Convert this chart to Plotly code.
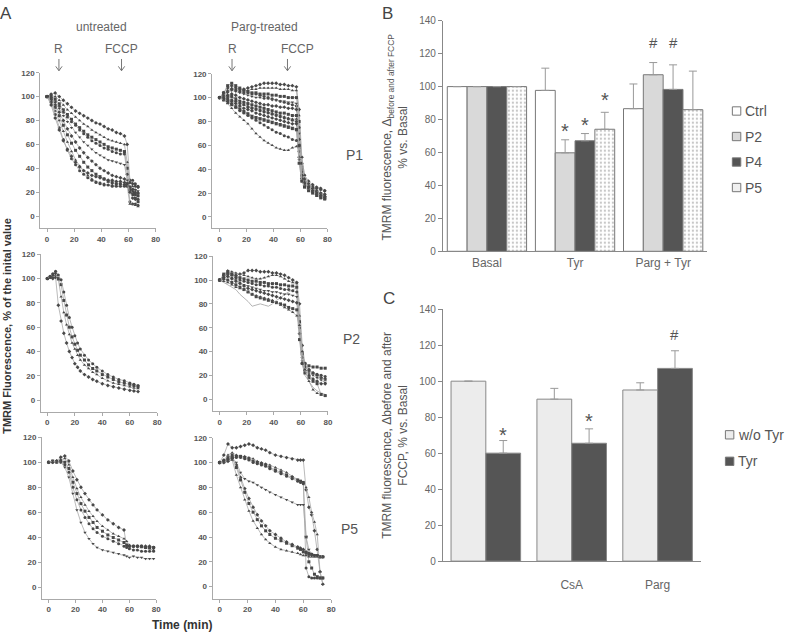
import plotly.graph_objects as go

W, H = 792, 640
FONT = "Liberation Sans, Arial, sans-serif"

# ---------------- Panel A data (time in min, % of initial value) ----------------
t_p1_un = [0, 3, 6, 9, 12, 15, 18, 21, 24, 27, 30, 33, 36, 39, 42, 45, 48, 51, 54, 57, 59, 61, 63, 65, 67]
p1_un = [
    [100, 102, 103, 100, 97, 94, 91, 88, 86, 84, 82, 80, 78, 77, 75, 73, 72, 70, 69, 67, 60, 30, 27, 25, 24],
    [100, 101, 100, 97, 93, 89, 86, 83, 80, 77, 75, 72, 70, 68, 66, 64, 63, 62, 61, 60, 45, 28, 25, 22, 20],
    [100, 100, 98, 94, 89, 85, 81, 77, 74, 71, 68, 66, 64, 62, 60, 58, 57, 56, 55, 54, 40, 22, 20, 18, 17],
    [100, 99, 96, 92, 87, 83, 79, 76, 72, 69, 66, 63, 61, 59, 57, 56, 54, 53, 52, 52, 35, 12, 10, 10, 9],
    [100, 99, 95, 90, 84, 79, 74, 70, 66, 62, 59, 56, 53, 51, 49, 47, 46, 45, 44, 43, 30, 25, 23, 22, 21],
    [100, 98, 93, 87, 80, 73, 67, 62, 57, 53, 49, 46, 43, 40, 38, 36, 34, 33, 32, 31, 27, 24, 22, 20, 19],
    [100, 97, 91, 84, 76, 68, 61, 55, 50, 45, 41, 38, 35, 33, 31, 29, 28, 27, 27, 26, 26, 22, 18, 15, 12],
    [100, 96, 88, 80, 71, 62, 54, 47, 42, 38, 34, 31, 29, 28, 27, 26, 26, 25, 25, 25, 25, 10, 10, 9, 8],
    [100, 95, 85, 74, 64, 55, 48, 43, 38, 35, 32, 30, 28, 27, 26, 26, 25, 25, 25, 25, 25, 28, 30, 27, 25],
    [100, 93, 82, 72, 63, 56, 50, 45, 41, 38, 36, 34, 33, 32, 31, 30, 30, 29, 29, 28, 27, 20, 15, 14, 14],
]

t_p1_pa = [0, 3, 6, 9, 12, 15, 18, 21, 24, 27, 30, 33, 36, 39, 42, 45, 48, 51, 54, 57, 59, 61, 63, 66, 69, 72, 75, 78]
p1_pa = [
    [100, 104, 108, 110, 108, 107, 107, 108, 109, 110, 111, 112, 112, 112, 112, 111, 111, 110, 110, 109, 90, 50, 35, 30, 27, 25, 24, 22],
    [100, 103, 106, 108, 107, 106, 106, 106, 107, 107, 108, 108, 108, 108, 108, 107, 107, 107, 106, 106, 85, 45, 32, 28, 26, 22, 20, 18],
    [100, 104, 110, 112, 110, 108, 106, 105, 104, 104, 103, 103, 103, 102, 102, 101, 101, 100, 100, 100, 80, 40, 30, 27, 24, 20, 18, 16],
    [100, 102, 105, 107, 106, 105, 104, 104, 103, 103, 102, 101, 100, 99, 98, 97, 96, 95, 94, 93, 75, 42, 31, 27, 24, 21, 19, 17],
    [100, 102, 104, 106, 105, 104, 103, 102, 101, 100, 100, 99, 99, 98, 98, 97, 97, 96, 96, 95, 70, 40, 32, 28, 25, 22, 20, 18],
    [100, 101, 102, 103, 102, 100, 99, 98, 97, 96, 95, 94, 94, 93, 93, 92, 92, 91, 91, 90, 65, 38, 30, 26, 23, 20, 18, 17],
    [100, 100, 101, 101, 99, 97, 96, 95, 94, 93, 92, 91, 90, 89, 88, 87, 87, 86, 85, 85, 60, 35, 28, 25, 22, 20, 18, 16],
    [100, 101, 100, 100, 98, 96, 94, 93, 92, 91, 90, 89, 88, 87, 86, 85, 84, 83, 82, 82, 58, 33, 27, 24, 21, 19, 17, 15],
    [100, 99, 99, 98, 97, 95, 94, 92, 91, 90, 89, 88, 87, 86, 85, 84, 83, 82, 81, 80, 55, 35, 29, 27, 25, 24, 23, 22],
    [100, 99, 98, 97, 95, 93, 91, 90, 89, 87, 86, 85, 84, 83, 82, 81, 80, 79, 78, 78, 50, 32, 28, 26, 24, 22, 20, 19],
    [100, 98, 97, 95, 93, 91, 89, 87, 85, 84, 83, 82, 81, 80, 79, 78, 77, 76, 75, 74, 48, 30, 26, 24, 22, 20, 19, 18],
    [100, 98, 96, 94, 92, 90, 88, 86, 84, 83, 82, 81, 80, 79, 78, 77, 76, 75, 74, 73, 45, 30, 25, 22, 20, 18, 16, 15],
    [100, 99, 97, 95, 92, 89, 87, 85, 83, 81, 79, 77, 75, 73, 71, 70, 68, 67, 65, 64, 60, 45, 32, 25, 22, 20, 18, 17],
    [100, 98, 95, 91, 87, 84, 81, 78, 74, 70, 67, 64, 62, 60, 58, 57, 56, 56, 58, 59, 59, 50, 35, 28, 24, 22, 20, 19],
]

t_p2_un = [0, 2, 4, 6, 8, 10, 12, 14, 16, 18, 20, 22, 24, 27, 30, 33, 36, 40, 44, 48, 52, 56, 60, 63, 66]
p2_un = [
    [100, 101, 100, 101, 78, 65, 55, 47, 40, 35, 30, 27, 24, 21, 19, 17, 15.5, 13.5, 12, 11, 10, 9, 8, 7.5, 7],
    [100, 102, 101, 103, 99, 85, 72, 62, 54, 47, 42, 37, 33, 29, 26, 23, 21, 18, 16, 14, 13, 12, 11, 10, 9.5],
    [100, 101, 103, 105, 100, 95, 82, 70, 60, 52, 46, 41, 37, 33, 29, 26, 24, 21, 19, 17, 15, 14, 13, 12, 11],
    [100, 102, 104, 106, 103, 99, 89, 78, 68, 60, 53, 47, 42, 37, 33, 30, 27, 24, 21, 19, 17, 16, 14, 13, 12],
]

t_p2_pa = [0, 3, 6, 9, 12, 15, 18, 21, 24, 27, 30, 33, 36, 39, 42, 45, 48, 51, 54, 57, 59, 61, 63, 66, 69, 72, 75, 78]
p2_pa = [
    [100, 104, 106, 105, 104, 105, 106, 108, 108, 108, 107, 107, 107, 106, 106, 105, 104, 102, 100, 98, 80, 45, 30, 25, 22, 20, 18, 17],
    [100, 103, 108, 107, 106, 105, 104, 103, 102, 101, 101, 102, 103, 104, 104, 103, 101, 99, 98, 97, 70, 40, 28, 24, 22, 20, 18, 16],
    [100, 105, 107, 105, 103, 102, 101, 100, 99, 99, 98, 98, 97, 97, 97, 96, 96, 95, 95, 94, 65, 38, 30, 28, 27, 27, 26, 26],
    [100, 104, 105, 104, 102, 100, 99, 98, 97, 96, 96, 95, 95, 94, 94, 93, 92, 92, 91, 90, 60, 35, 27, 24, 22, 21, 20, 19],
    [100, 103, 104, 102, 100, 98, 96, 95, 94, 93, 92, 91, 91, 90, 90, 89, 88, 88, 87, 86, 55, 32, 25, 22, 20, 18, 16, 14],
    [100, 102, 103, 101, 99, 97, 95, 93, 92, 91, 90, 89, 88, 87, 86, 85, 84, 83, 82, 81, 55, 30, 24, 20, 17, 15, 13, 13],
    [100, 101, 100, 98, 96, 94, 92, 90, 88, 86, 85, 84, 83, 82, 81, 80, 79, 77, 76, 75, 50, 30, 22, 18, 15, 13, 4, 3],
    [100, 99, 98, 96, 94, 93, 92, 90, 88, 87, 86, 85, 84, 83, 81, 79, 77, 75, 73, 70, 62, 40, 25, 15, 8, 5, 4, 3],
]
p2_pa_plain = [100, 98, 96, 94, 92, 88, 85, 82, 78, 79, 80, 79, 78, 80, 83, 85, 88, 90, 92, 93, 60, 30, 20, 15, 10, 7, 5, 4]

t_p5_un = [0, 3, 6, 9, 12, 15, 18, 21, 24, 27, 30, 33, 36, 40, 44, 48, 52, 56, 58, 60, 63, 66, 69, 72, 75, 78]
p5_un = [
    [100, 100, 101, 104, 105, 101, 93, 86, 80, 75, 70, 66, 62, 58, 54, 51, 48, 46, 33, 33, 33, 33, 33, 33, 33, 32],
    [100, 101, 100, 102, 103, 98, 88, 79, 72, 66, 61, 57, 53, 49, 46, 43, 41, 39, 37, 34, 33, 33, 32, 32, 31, 30],
    [100, 101, 100, 101, 100, 95, 84, 75, 67, 61, 56, 52, 48, 45, 42, 40, 38, 36, 34, 33, 33, 33, 33, 32, 32, 32],
    [100, 100, 101, 100, 98, 92, 80, 70, 62, 56, 51, 47, 44, 41, 39, 37, 35, 33, 32, 31, 30, 30, 29, 29, 29, 29],
    [100, 101, 100, 100, 96, 88, 75, 62, 52, 44, 39, 35, 32, 30, 29, 28, 27, 26, 25, 24, 25, 24, 24, 23, 23, 23],
]

t_p5_pa = [0, 3, 6, 9, 12, 15, 18, 21, 24, 27, 30, 33, 36, 40, 44, 48, 52, 56, 58, 60, 62, 64, 66, 68, 70, 72, 74]
p5_pa = [
    [100, 106, 115, 112, 112, 113, 114, 115, 114, 112, 111, 110, 108, 106, 105, 104, 103, 102, 102, 102, 78, 64, 58, 45, 30, 12, 2],
    [100, 102, 106, 108, 106, 105, 105, 104, 103, 101, 100, 99, 98, 96, 94, 92, 89, 86, 85, 84, 80, 72, 60, 52, 42, 12, 2],
    [100, 101, 104, 106, 105, 105, 104, 103, 101, 100, 99, 98, 96, 94, 92, 90, 88, 86, 85, 84, 40, 20, 15, 10, 8, 7, 7],
    [100, 102, 103, 104, 104, 104, 103, 102, 100, 99, 98, 97, 95, 93, 91, 89, 87, 85, 84, 83, 15, 8, 7, 7, 7, 7, 7],
    [100, 101, 102, 104, 100, 92, 87, 85, 84, 82, 80, 78, 76, 74, 72, 70, 68, 66, 66, 66, 40, 30, 26, 25, 25, 24, 24],
    [100, 100, 101, 103, 98, 88, 79, 71, 64, 58, 53, 49, 45, 42, 39, 36, 34, 32, 31, 30, 28, 27, 26, 25, 25, 24, 24],
    [100, 101, 102, 104, 96, 86, 76, 67, 60, 54, 49, 45, 42, 39, 37, 35, 33, 31, 30, 28, 27, 26, 26, 25, 25, 24, 24],
    [100, 100, 101, 102, 90, 80, 70, 61, 53, 47, 42, 38, 35, 32, 30, 29, 28, 27, 26, 25, 25, 24, 24, 24, 24, 24, 24],
]

# ---------------- Panel B data ----------------
b_cats = ["Basal", "Tyr", "Parg + Tyr"]
b_series = ["Ctrl", "P2", "P4", "P5"]
b_ctrl = [100, 97.7, 86.6]
b_p2 = [100, 59.8, 107.2]
b_p4 = [100, 67.1, 98.3]
b_p5 = [100, 74.1, 86.0]
b_ctrl_err = [None, 13.5, 15.0]
b_p2_err = [None, 7.9, 7.4]
b_p4_err = [None, 4.4, 14.9]
b_p5_err = [None, 10.3, 23.4]
# (symbol, category index, series index, value at symbol)
b_sig = [("*", 1, 1, 75.5), ("*", 1, 2, 79.4), ("*", 1, 3, 94.3), ("#", 2, 1, 127), ("#", 2, 2, 127)]

# ---------------- Panel C data ----------------
c_cats = ["Ctrl", "CsA", "Parg"]
c_tick_labels = ["CsA", "Parg"]
c_series = ["w/o Tyr", "Tyr"]
c_wo = [100, 90, 95.1]
c_tyr = [60, 65.5, 107.1]
c_wo_err = [None, 6, 4]
c_tyr_err = [7, 8, 9.8]
c_sig = [("*", 0, 1, 72.2), ("*", 1, 1, 80), ("#", 2, 1, 125.9)]


def px_x(a, b):
    return [a / W, b / W]


def px_y(bottom, top):
    return [1 - bottom / H, 1 - top / H]


fig = go.Figure()

panels = [
    dict(t=t_p1_un, c=p1_un, xd=(40.5, 156.7), xmin=-5, yd=(226.7, 68), ymin=-10.4),
    dict(t=t_p1_pa, c=p1_pa, xd=(213.5, 329.5), xmin=-5.5, yd=(226.7, 69), ymin=-9.6),
    dict(t=t_p2_un, c=p2_un, xd=(41, 158.3), xmin=-4.8, yd=(413.3, 253), ymin=-9.4),
    dict(t=t_p2_pa, c=p2_pa, xd=(214.5, 330), xmin=-4.8, yd=(412.7, 255), ymin=-9.9),
    dict(t=t_p5_un, c=p5_un, xd=(42.3, 157.3), xmin=-4.9, yd=(604, 439.4), ymin=-8.8),
    dict(t=t_p5_pa, c=p5_pa, xd=(214, 333.3), xmin=-5, yd=(604, 440), ymin=-9.7),
]
symbols = ["diamond", "triangle-up", "square", "circle", "triangle-down", "diamond",
           "square", "triangle-up", "circle", "diamond", "triangle-down", "square", "circle", "triangle-up"]

layout = dict(
    width=W, height=H, margin=dict(l=0, r=0, t=0, b=0),
    paper_bgcolor="white", plot_bgcolor="white", showlegend=False,
    barmode="overlay", font=dict(family=FONT, color="#555"),
)

tickA = dict(size=8, color="#555", family=FONT, weight="bold")
for i, p in enumerate(panels, start=1):
    sfx = "" if i == 1 else str(i)
    xa, ya = "x" + sfx, "y" + sfx
    if i == 4:
        fig.add_trace(go.Scatter(x=p["t"], y=p2_pa_plain, mode="lines", xaxis=xa, yaxis=ya,
                                 line=dict(color="#b5b5b5", width=1), cliponaxis=False,
                                 hoverinfo="skip"))
    for j, c in enumerate(p["c"]):
        fig.add_trace(go.Scatter(
            x=p["t"], y=c, mode="lines+markers", xaxis=xa, yaxis=ya,
            line=dict(color="#a8a8a8", width=0.8),
            marker=dict(symbol=symbols[j % len(symbols)], size=3, color="#484848", line=dict(width=0)),
            cliponaxis=False, hoverinfo="skip"))
    layout["xaxis" + sfx] = dict(
        domain=px_x(*p["xd"]), range=[p["xmin"], 80], anchor=ya, tick0=0, dtick=20,
        showline=True, linecolor="#aaa", linewidth=1, ticks="outside", ticklen=3, tickcolor="#aaa",
        tickfont=tickA, showgrid=False, zeroline=False)
    layout["yaxis" + sfx] = dict(
        domain=px_y(*p["yd"]), range=[p["ymin"], 120], anchor=xa, tick0=0, dtick=20,
        showline=True, linecolor="#aaa", linewidth=1, ticks="outside", ticklen=3, tickcolor="#aaa",
        tickfont=tickA, showgrid=False, zeroline=False)

# ---------------- Panel B bars ----------------
b_vals = [b_ctrl, b_p2, b_p4, b_p5]
b_errs = [b_ctrl_err, b_p2_err, b_p4_err, b_p5_err]
b_fill = ["white", "#d9d9d9", "#555555", "white"]
nB = len(b_series)
bw_B = 0.9 / nB
b_off = [-0.45 + k * bw_B for k in range(nB)]
for k in range(nB):
    marker = dict(color=b_fill[k], line=dict(color="#777", width=1))
    if k == 3:
        marker["pattern"] = dict(shape=".", fgcolor="#8a8a8a", bgcolor="white", size=4, solidity=0.25)
    fig.add_trace(go.Bar(
        x=b_cats, y=b_vals[k], name=b_series[k], xaxis="x7", yaxis="y7",
        width=bw_B, offset=b_off[k], marker=marker,
        error_y=dict(type="data", array=b_errs[k], arrayminus=[0] * 3, symmetric=False,
                     color="#999", thickness=1, width=4),
        hoverinfo="skip"))

layout["xaxis7"] = dict(domain=px_x(445.7, 711.7), anchor="y7", type="category",
                        showline=True, linecolor="#888", linewidth=1, ticks="",
                        tickfont=dict(size=12, color="#666", family=FONT), showgrid=False)
layout["yaxis7"] = dict(domain=px_y(250, 15), anchor="x7", range=[0, 140], dtick=20,
                        showline=True, linecolor="#888", linewidth=1, ticks="outside", ticklen=4,
                        tickcolor="#888", tickfont=dict(size=10, color="#666", family=FONT),
                        showgrid=False, zeroline=False)

# ---------------- Panel C bars ----------------
c_vals = [c_wo, c_tyr]
c_errs = [c_wo_err, c_tyr_err]
c_fill = ["#ececec", "#555555"]
nC = len(c_series)
bw_C = 0.81 / nC
c_off = [-0.405 + k * bw_C for k in range(nC)]
for k in range(nC):
    fig.add_trace(go.Bar(
        x=c_cats, y=c_vals[k], name=c_series[k], xaxis="x8", yaxis="y8",
        width=bw_C, offset=c_off[k], marker=dict(color=c_fill[k], line=dict(color="#888", width=1)),
        error_y=dict(type="data", array=c_errs[k], arrayminus=[0] * 3, symmetric=False,
                     color="#999", thickness=1, width=4),
        hoverinfo="skip"))

layout["xaxis8"] = dict(domain=px_x(445.7, 705), anchor="y8", type="category",
                        tickmode="array", tickvals=c_tick_labels, ticktext=c_tick_labels,
                        showline=True, linecolor="#888", linewidth=1, ticks="",
                        tickfont=dict(size=12, color="#666", family=FONT), showgrid=False,
                        ticklabelstandoff=13)
layout["yaxis8"] = dict(domain=px_y(565.7, 309), anchor="x8", range=[0, 140], dtick=20,
                        showline=True, linecolor="#888", linewidth=1, ticks="outside", ticklen=4,
                        tickcolor="#888", tickfont=dict(size=10, color="#666", family=FONT),
                        showgrid=False, zeroline=False)

# ---------------- Annotations ----------------
ann = []
shapes = []


def txt(x, y, s, size, color="#555", bold=False, angle=0, xanchor="center", family=FONT):
    ann.append(dict(x=x / W, y=1 - y / H, xref="paper", yref="paper", text=s, showarrow=False,
                    textangle=angle, xanchor=xanchor, yanchor="middle",
                    font=dict(family=family, size=size, color=color, weight="bold" if bold else "normal")))


def down_arrow(x, y0, y1):
    X = x / W
    Y0, Y1 = 1 - y0 / H, 1 - y1 / H
    dx, dy = 3.2 / W, 4.5 / H
    path = (f"M {X},{Y0} L {X},{Y1} M {X - dx},{Y1 + dy} L {X},{Y1} L {X + dx},{Y1 + dy}")
    shapes.append(dict(type="path", xref="paper", yref="paper", path=path,
                       line=dict(color="#777", width=1)))


txt(6, 8, "A", 17, "#444")
txt(390, 8, "B", 17, "#444")
txt(391, 298, "C", 17, "#444")
txt(102.5, 21.7, "untreated", 12, "#666")
txt(265.8, 21.7, "Parg-treated", 12, "#666")
for (rx, fx, fax) in [(59.3, 122.5, 122.3), (233.5, 299.2, 289.3)]:
    txt(rx, 44.2, "R", 12, "#666")
    txt(fx, 44.2, "FCCP", 12, "#666")
    down_arrow(rx, 54, 66)
    down_arrow(fax, 54, 66)
txt(356.7, 152, "P1", 14, "#555")
txt(353.3, 339, "P2", 14, "#555")
txt(351.7, 533.3, "P5", 14, "#555")
txt(183.3, 631, "Time (min)", 12, "#333", bold=True)
txt(7, 326, "TMRM Fluorescence, % of the inital value", 11, "#333", bold=True, angle=-90)
txt(397.5, 133, "TMRM fluorescence, Δ<sub>before and after FCCP</sub><br>% vs. Basal", 12, "#555", angle=-90)
txt(397.5, 437, "TMRM fluorescence, Δbefore and after<br>FCCP, % vs. Basal", 12, "#555", angle=-90)

for (s, g, k, v) in b_sig:
    ann.append(dict(x=g + b_off[k] + bw_B / 2, y=v, xref="x7", yref="y7", text=s, showarrow=False,
                    yanchor="middle", yshift=-4 if s == "*" else 0,
                    font=dict(family=FONT, size=20 if s == "*" else 15, color="#555")))
for (s, g, k, v) in c_sig:
    ann.append(dict(x=g + c_off[k] + bw_C / 2, y=v, xref="x8", yref="y8", text=s, showarrow=False,
                    yanchor="middle", yshift=-4 if s == "*" else 0,
                    font=dict(family=FONT, size=20 if s == "*" else 15, color="#555")))

# custom legends
b_leg_fill = ["white", "#d9d9d9", "#555555", "#efefef"]
for k, name in enumerate(b_series):
    yc = 107 + 26 * k
    shapes.append(dict(type="rect", xref="paper", yref="paper", x0=737 / W, x1=745.5 / W,
                       y0=1 - (yc + 4.25) / H, y1=1 - (yc - 4.25) / H,
                       fillcolor=b_leg_fill[k], line=dict(color="#777", width=1)))
    txt(748, yc, name, 14, "#555", xanchor="left")
for k, name in enumerate(c_series):
    yc = 437 + 27 * k
    shapes.append(dict(type="rect", xref="paper", yref="paper", x0=730 / W, x1=738.5 / W,
                       y0=1 - (yc + 4.25) / H, y1=1 - (yc - 4.25) / H,
                       fillcolor=c_fill[k], line=dict(color="#777", width=1)))
    txt(741, yc, name, 14, "#555", xanchor="left")

layout["annotations"] = ann
layout["shapes"] = shapes
fig.update_layout(**layout)

fig.write_html("out.html", config={"displayModeBar": False},
               post_script="document.body.style.margin='0';")
